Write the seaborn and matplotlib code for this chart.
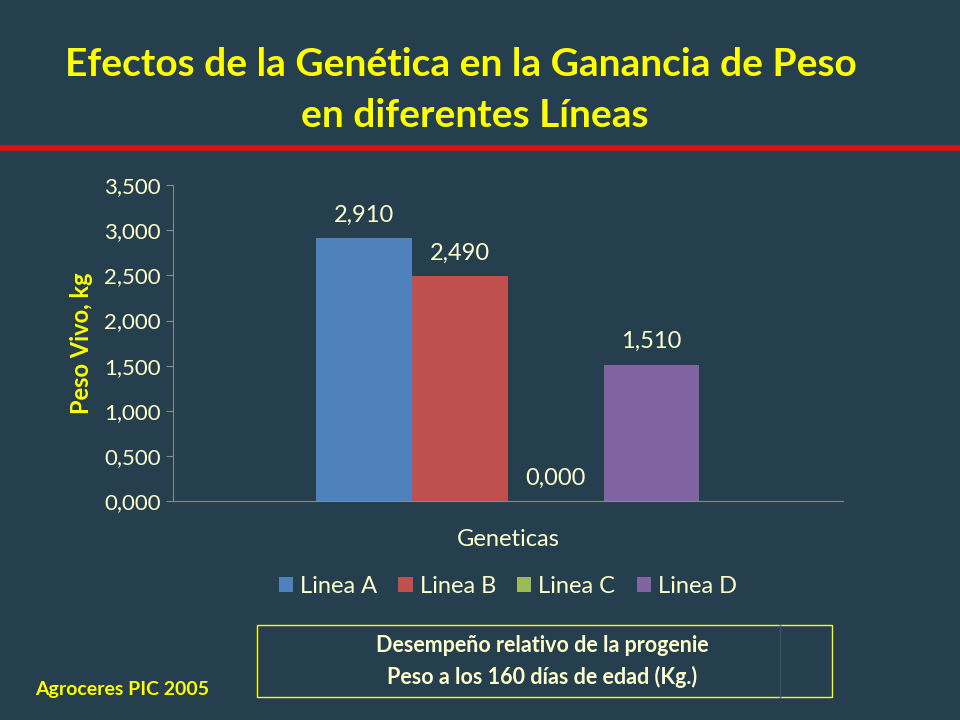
import matplotlib.pyplot as plt
import seaborn as sns
import pandas as pd
from matplotlib.patches import Rectangle

lineas = ["Linea A", "Linea B", "Linea C", "Linea D"]
pesos = [2.910, 2.490, 0.000, 1.510]
colores = ["#4F81BD", "#C0504D", "#9BBB59", "#8064A2"]
y_ticks = [0, 0.5, 1.0, 1.5, 2.0, 2.5, 3.0, 3.5]

BG = "#253F4E"
YEL = "#FFFF00"
PALE = "#FFFFCC"

plt.rcParams["font.family"] = "Lato"

df = pd.DataFrame({"grupo": ["Geneticas"] * 4, "linea": lineas, "peso": pesos})

fig = plt.figure(figsize=(9.6, 7.2), dpi=100, facecolor=BG)
ax = fig.add_axes([0.180, 0.304, 0.698, 0.439])
ax.set_facecolor(BG)

sns.barplot(data=df, x="grupo", y="peso", hue="linea", palette=colores,
            width=0.572, saturation=1, ax=ax, legend=True)

for cont in ax.containers:
    ax.bar_label(cont, labels=[f"{v:.3f}".replace(".", ",") for v in cont.datavalues],
                 padding=9, color=PALE, fontsize=17)

ax.set_ylim(0, 3.5)
ax.set_xlim(-0.5, 0.5)
ax.set_yticks(y_ticks)
ax.set_yticklabels([f"{t:.3f}".replace(".", ",") for t in y_ticks], color=PALE, fontsize=16)
ax.tick_params(axis="y", colors="#888888", labelcolor=PALE, length=5, direction="out")
ax.tick_params(axis="x", length=0, labelcolor=PALE, labelsize=17, pad=20)
ax.set_xlabel("")
ax.set_ylabel("Peso Vivo, kg", color=YEL, fontsize=17, fontweight="bold", labelpad=8)
for s in ["top", "right"]:
    ax.spines[s].set_visible(False)
ax.spines["left"].set_color("#888888")
ax.spines["bottom"].set_color("#888888")

ax.legend(loc="upper center", bbox_to_anchor=(0.5, -0.17), ncol=4, frameon=False,
          fontsize=17, handlelength=0.6, handleheight=0.6, columnspacing=0.9,
          handletextpad=0.3, labelcolor=PALE)

fig.text(0.48, 0.91, "Efectos de la Genética en la Ganancia de Peso", color=YEL,
         fontsize=28, fontweight="bold", ha="center", va="center")
fig.text(0.495, 0.84, "en diferentes Líneas", color=YEL,
         fontsize=28, fontweight="bold", ha="center", va="center")
fig.add_artist(plt.Line2D([0, 1], [0.795, 0.795], color="#E01010", lw=4))

fig.add_artist(Rectangle((257 / 960, 1 - 697 / 720), 575 / 960, 72 / 720,
                         fill=False, edgecolor=YEL, lw=1))
fig.add_artist(plt.Line2D([780 / 960, 780 / 960], [1 - 697 / 720, 1 - 625 / 720],
                          color="#3A5566", lw=1))
fig.text(0.565, 1 - 645 / 720, "Desempeño relativo de la progenie", color=PALE,
         fontsize=15.5, fontweight="bold", ha="center", va="center")
fig.text(0.565, 1 - 677 / 720, "Peso a los 160 días de edad (Kg.)", color=PALE,
         fontsize=15.5, fontweight="bold", ha="center", va="center")
fig.text(35 / 960, 1 - 690 / 720, "Agroceres PIC 2005", color=YEL,
         fontsize=14, fontweight="bold", ha="left", va="center")

fig.savefig("out.png", dpi=100, facecolor=BG)
